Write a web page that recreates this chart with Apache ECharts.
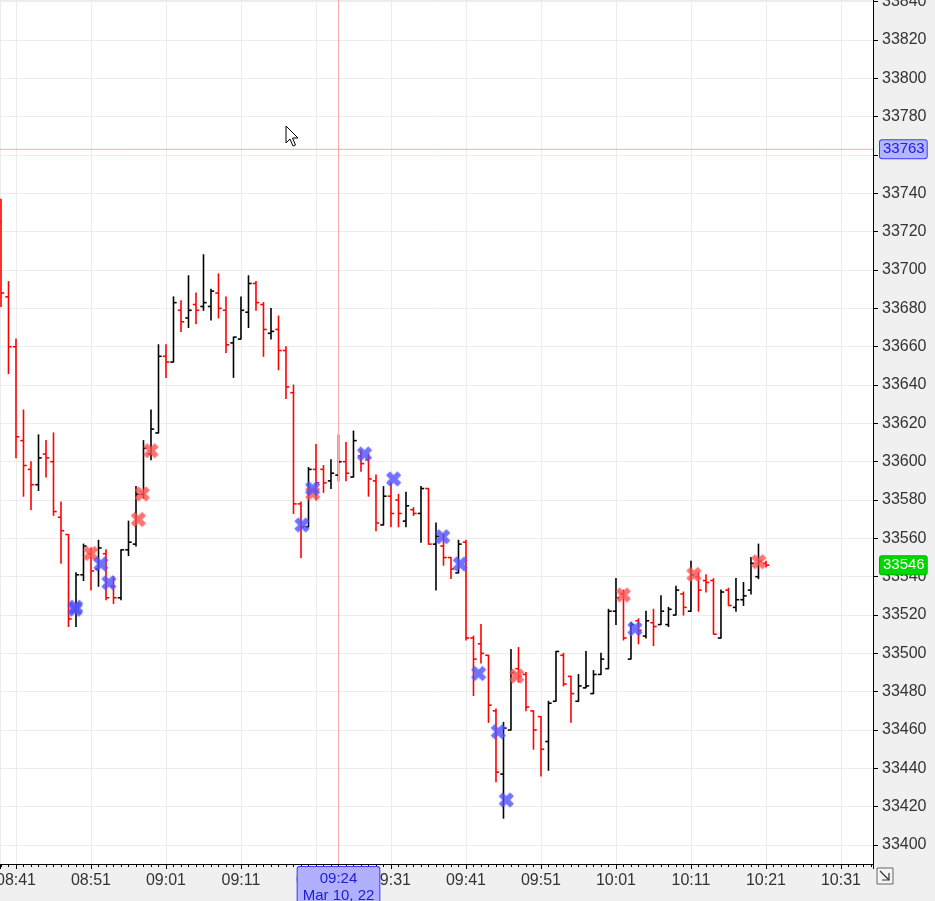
<!DOCTYPE html>
<html>
<head>
<meta charset="utf-8">
<script src="https://cdn.jsdelivr.net/npm/echarts@6/dist/echarts.min.js"></script>
<style>
html,body{margin:0;padding:0;background:#f0f0f0;}
#chart{width:935px;height:901px;}
</style>
</head>
<body>
<div id="chart"></div>
<script>
// minute offsets from 08:41
var minutes = [-2,-1,0,1,2,3,4,5,6,7,8,9,10,11,12,13,14,15,16,17,18,19,20,21,22,23,24,25,26,27,28,29,30,31,32,33,34,35,36,37,38,39,40,41,42,43,44,45,46,47,48,49,50,51,52,53,54,55,56,57,58,59,60,61,62,63,64,65,66,67,68,69,70,71,72,73,74,75,76,77,78,79,80,81,82,83,84,85,86,87,88,89,90,91,92,93,94,95,96,97,98,99,100];
var opens  = [33725,33686,33660,33611,33596,33588,33604,33600,33571,33562,33522,33541,33552,33544,33552,33535,33529,33554,33557,33583,33604,33615,33655,33652,33679,33675,33682,33681,33681,33688,33679,33662,33664,33678,33693,33682,33667,33669,33658,33636,33578,33566,33596,33596,33590,33593,33600,33592,33603,33601,33590,33567,33582,33580,33569,33575,33573,33586,33557,33556,33550,33542,33558,33508,33505,33499,33470,33437,33460,33492,33489,33470,33467,33454,33475,33499,33488,33475,33482,33479,33489,33492,33522,33531,33497,33517,33509,33516,33515,33515,33520,33531,33522,33540,33538,33538,33508,33533,33524,33528,33533,33540,33547];
var highs  = [33737,33694,33664,33627,33600,33614,33611,33615,33579,33562,33542,33557,33555,33559,33554,33540,33554,33569,33587,33611,33627,33661,33661,33686,33684,33697,33688,33708,33690,33698,33686,33665,33686,33697,33694,33683,33680,33676,33660,33640,33579,33597,33609,33598,33601,33614,33610,33616,33606,33604,33593,33587,33589,33583,33584,33576,33587,33586,33568,33562,33550,33559,33559,33509,33515,33499,33471,33464,33502,33503,33490,33470,33467,33475,33501,33500,33488,33489,33501,33491,33500,33523,33539,33533,33516,33518,33522,33523,33530,33524,33535,33532,33548,33542,33541,33539,33533,33534,33539,33537,33550,33557,33548];
var lows   = [33681,33646,33602,33582,33575,33585,33592,33572,33547,33514,33514,33538,33533,33535,33528,33526,33528,33551,33556,33581,33601,33615,33644,33652,33668,33670,33672,33679,33674,33675,33657,33644,33664,33670,33679,33655,33664,33648,33633,33573,33550,33566,33580,33584,33586,33590,33590,33592,33595,33582,33564,33567,33566,33566,33566,33572,33558,33557,33533,33546,33539,33542,33507,33478,33495,33464,33433,33414,33460,33485,33470,33450,33436,33439,33475,33483,33464,33475,33482,33479,33489,33492,33515,33507,33497,33505,33508,33504,33515,33514,33520,33520,33522,33522,33532,33510,33508,33525,33522,33525,33531,33539,33545];
var closes = [33688,33660,33613,33598,33588,33602,33602,33574,33564,33518,33541,33556,33543,33555,33529,33529,33554,33558,33583,33607,33617,33655,33652,33683,33673,33679,33679,33683,33689,33680,33661,33665,33679,33693,33683,33669,33668,33658,33639,33578,33566,33596,33589,33589,33594,33600,33594,33611,33599,33591,33568,33582,33573,33573,33577,33573,33586,33557,33561,33550,33544,33557,33508,33497,33500,33473,33438,33461,33490,33488,33472,33460,33450,33474,33501,33484,33479,33483,33483,33489,33497,33522,33529,33508,33515,33512,33517,33514,33522,33523,33533,33524,33541,33533,33537,33510,33532,33525,33528,33530,33547,33548,33546];

var blueX = [7.87,7.95,11.33,12.4,38.13,39.56,46.47,50.36,56.89,59.24,61.69,64.31,65.37,82.53];
var blueY = [33523,33524,33546.6,33536.8,33567,33586,33604,33591,33560.8,33546.6,33489.5,33459.1,33423.5,33512.8];
var redX  = [9.96,16.31,16.84,18.0,39.56,66.76,80.97,90.4,99.03];
var redY  = [33552.1,33569.9,33583.1,33605.7,33583.6,33488.2,33530.4,33541.2,33547.8];

var cursorMinute = 43;      // 09:24
var cursorDate = 'Mar 10, 22';
var cursorPrice = 33763;
var lastPrice = 33546;

var xMin = -2.133, xMax = 114.27;

function fmtTime(v){
  var m = Math.round(521 + v);
  var h = Math.floor(m/60), mm = m % 60;
  return (h<10?'0':'')+h+':'+(mm<10?'0':'')+mm;
}

var bars = minutes.map(function(t,i){ return [t, opens[i], highs[i], lows[i], closes[i]]; });
var blueData = blueX.map(function(x,i){ return [x, blueY[i]]; });
var redData = redX.map(function(x,i){ return [x, redY[i]]; });

var xShape = 'path://M0,2.5L2.5,0L5,2.5L7.5,0L10,2.5L7.5,5L10,7.5L7.5,10L5,7.5L2.5,10L0,7.5L2.5,5Z';
var FONT = 'Liberation Sans, Arial, sans-serif';
function crossStyle(){ return {color:'#ffaaaa', width:1, type:'solid', opacity:1}; }
function hiddenLine(){ return {color:'rgba(255,255,255,0)', width:0.01, type:'solid'}; }

var chart = echarts.init(document.getElementById('chart'));
chart.setOption({
  animation:false,
  backgroundColor:'#f0f0f0',
  grid:{left:0, top:0, right:62, bottom:37, show:true, backgroundColor:'#ffffff', borderWidth:0, containLabel:false, outerBoundsMode:'none'},
  xAxis:{
    type:'value', min:xMin, max:xMax, splitNumber:11,
    axisLine:{show:true, onZero:false, lineStyle:{color:'#000', width:1}},
    axisTick:{show:true, length:5, lineStyle:{color:'#000'}},
    minorTick:{show:true, splitNumber:10, length:3, lineStyle:{color:'#000'}},
    splitLine:{show:true, lineStyle:{color:'#ececec', width:1}},
    axisLabel:{formatter:fmtTime, showMinLabel:false, showMaxLabel:false, color:'#333', fontSize:16, fontFamily:FONT, margin:9}
  },
  yAxis:{
    type:'value', position:'right', min:33390.1, max:33840.9, splitNumber:22,
    axisLine:{show:true, onZero:false, lineStyle:{color:'#000', width:1}},
    axisTick:{show:true, length:5, lineStyle:{color:'#000'}},
    splitLine:{show:true, lineStyle:{color:'#ececec', width:1}},
    axisLabel:{formatter:function(v){return String(Math.round(v));}, showMinLabel:false, showMaxLabel:false, color:'#333', fontSize:16, fontFamily:FONT, margin:9}
  },
  series:[
    {
      type:'line', name:'crossH', data:[[xMin, cursorPrice],[xMax, cursorPrice]],
      symbol:'none', silent:true, z:1, clip:true,
      lineStyle:{color:'#ffaaaa', width:1, type:'solid'}, itemStyle:{color:'#ffaaaa'}
    },
    {
      type:'custom', name:'bars', data:bars, clip:true, color:'#ffaaaa', z:2,
      encode:{x:0, y:[1,2,3,4]},
      renderItem:function(params, api){
        var t = api.value(0), O = api.value(1), H = api.value(2), L = api.value(3), C = api.value(4);
        var po = api.coord([t,O]), ph = api.coord([t,H]), pl = api.coord([t,L]), pc = api.coord([t,C]);
        var col = C >= O ? '#000000' : '#ff0000';
        var st = {stroke:col, lineWidth:1.6};
        return {type:'group', children:[
          {type:'line', shape:{x1:po[0], y1:ph[1]-0.5, x2:po[0], y2:pl[1]+0.5}, style:st},
          {type:'line', shape:{x1:po[0]-3.2, y1:po[1], x2:po[0], y2:po[1]}, style:st},
          {type:'line', shape:{x1:po[0], y1:pc[1], x2:po[0]+3.2, y2:pc[1]}, style:st}
        ]};
      },
      markLine:{
        silent:true, symbol:'none', animation:false,
        lineStyle:crossStyle(),
        data:[
          {xAxis:cursorMinute, lineStyle:crossStyle(),
           label:{show:true, position:'start', distance:3, formatter:fmtTime(cursorMinute)+'\n'+cursorDate,
             color:'#2020d0', fontSize:15, lineHeight:17, fontFamily:FONT,
             backgroundColor:'#b0b0ff', borderColor:'#3a3aff', borderWidth:1, padding:[3,5,3,5], borderRadius:2}}
        ]
      }
    },
    {
      type:'scatter', name:'blue', data:blueData, symbol:xShape, symbolSize:15,
      itemStyle:{color:'rgba(80,80,255,0.85)', shadowBlur:2, shadowColor:'rgba(80,80,255,0.6)'}, z:5,
      markLine:{
        silent:true, symbol:'none', animation:false,
        lineStyle:hiddenLine(),
        data:[
          {yAxis:lastPrice, lineStyle:hiddenLine(),
           label:{show:true, position:'end', distance:7, formatter:String(lastPrice),
             color:'#ffffff', fontSize:15, fontFamily:FONT,
             backgroundColor:'#00d800', borderColor:'#00b000', borderWidth:1, padding:[2,2,1,3], borderRadius:2}}
        ]
      }
    },
    {
      type:'scatter', name:'red', data:redData, symbol:xShape, symbolSize:15,
      itemStyle:{color:'rgba(255,80,80,0.85)', shadowBlur:2, shadowColor:'rgba(255,80,80,0.6)'}, z:4,
      markLine:{
        silent:true, symbol:'none', animation:false,
        lineStyle:hiddenLine(),
        data:[
          {yAxis:cursorPrice, lineStyle:hiddenLine(),
           label:{show:true, position:'end', distance:7, formatter:String(cursorPrice),
             color:'#2020e0', fontSize:15, fontFamily:FONT,
             backgroundColor:'#b4b4ff', borderColor:'#3a3aff', borderWidth:1, padding:[2,2,1,3], borderRadius:2}}
        ]
      }
    }
  ],
  graphic:[
    {type:'polygon', x:286, y:126, z:100,
     shape:{points:[[0,0],[0,17],[4,13],[7,20],[9.5,19],[6.5,12],[12,12]]},
     style:{fill:'#ffffff', stroke:'#000000', lineWidth:1}},
    {type:'group', x:877, y:868, z:100, children:[
      {type:'rect', shape:{x:0, y:0, width:16, height:16}, style:{fill:'#f4f4f4', stroke:'#666', lineWidth:1}},
      {type:'polyline', shape:{points:[[3,3],[12,12]]}, style:{stroke:'#333', lineWidth:1.2}},
      {type:'polyline', shape:{points:[[5,12],[12,12],[12,5]]}, style:{stroke:'#333', lineWidth:1.2, fill:null}}
    ]}
  ]
});
</script>
</body>
</html>
